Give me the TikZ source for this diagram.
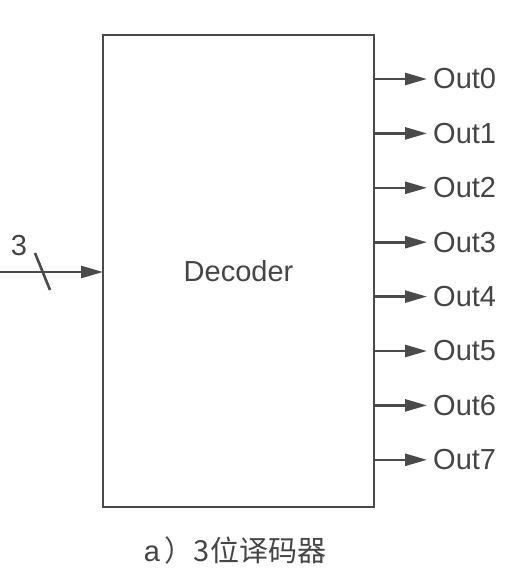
\documentclass[tikz,border=0pt]{standalone}
\usepackage{fontspec}
\setmainfont{Liberation Sans}
\newfontfamily\cjk{Noto Sans CJK SC}
\usetikzlibrary{arrows.meta}
\definecolor{ink}{HTML}{4A4A4A}
\definecolor{txt}{HTML}{454545}
\begin{document}
\begin{tikzpicture}[x=1pt,y=-1pt,
  wire/.style={draw=ink,line width=2.6pt,-{Triangle[length=22pt,width=12pt]}},
  lbl/.style={text=txt,font=\fontsize{29}{33}\selectfont,inner sep=0pt},
  boxst/.style={draw=ink,line width=2.8pt,minimum width=271pt,minimum height=472pt,inner sep=0pt}]
\useasboundingbox (0,0) rectangle (525,576);
\node[boxst,lbl] (dec) at (238.5,271) {Decoder};
\foreach \i in {0,...,7}{
  \pgfmathsetmacro{\yy}{79+54.4*\i}
  \coordinate (s\i) at (374,\yy);
  \coordinate (e\i) at (427,\yy);
  \draw[wire] (s\i) -- (e\i);
  \node[lbl,anchor=west] (o\i) at (433,\yy) {Out\i};
}
\coordinate (in) at (0,272);
\coordinate (inend) at (103,272);
\draw[wire] (in) -- (inend);
\coordinate (sa) at (35,253);
\coordinate (sb) at (50,290);
\draw[draw=ink,line width=2.6pt] (sa) -- (sb);
\node[lbl] (three) at (19,246) {3};
\node[lbl] (cap) at (235,550) {a\,{\cjk ）3位译码器}};
\end{tikzpicture}
\end{document}
